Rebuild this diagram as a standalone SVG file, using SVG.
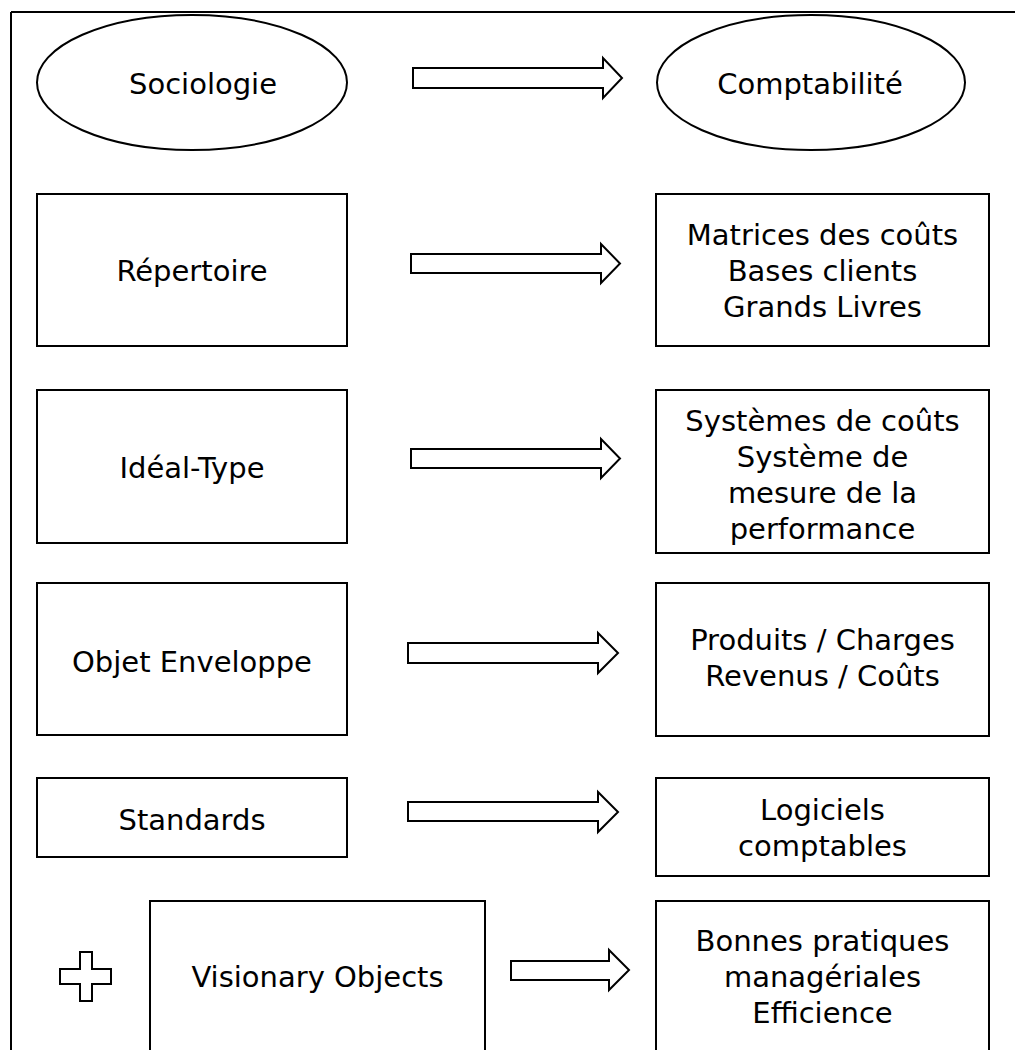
<svg xmlns="http://www.w3.org/2000/svg" width="1015" height="1050" viewBox="0 0 1015 1050">
<style>
.shape{fill:#fff;stroke:#000;stroke-width:2}
.arrow{fill:#fff;stroke:#000;stroke-width:2;stroke-linejoin:miter}
text{font-family:"DejaVu Sans","Liberation Sans",sans-serif;font-size:29px;fill:#000;text-anchor:middle}
</style>
<rect width="1015" height="1050" fill="#fff"/>
<g id="frame">
<line x1="11" y1="12" x2="1015" y2="12" stroke="#000" stroke-width="2"/>
<line x1="11" y1="12" x2="11" y2="1050" stroke="#000" stroke-width="2"/>
</g>
<g id="sociologie">
<ellipse class="shape" cx="192" cy="82.5" rx="155" ry="67.5"/>
<text x="203" y="94">Sociologie</text>
</g>
<g id="comptabilite">
<ellipse class="shape" cx="811" cy="82.5" rx="154" ry="67.5"/>
<text x="810" y="94">Comptabilité</text>
</g>
<g id="repertoire">
<rect class="shape" x="37" y="194" width="310" height="152"/>
<text x="192" y="281">Répertoire</text>
</g>
<g id="matrices">
<rect class="shape" x="656" y="194" width="333" height="152"/>
<text x="822.5" y="245">Matrices des coûts</text>
<text x="822.5" y="281">Bases clients</text>
<text x="822.5" y="317">Grands Livres</text>
</g>
<g id="idealtype">
<rect class="shape" x="37" y="390" width="310" height="153"/>
<text x="192" y="478">Idéal-Type</text>
</g>
<g id="systemes">
<rect class="shape" x="656" y="390" width="333" height="163"/>
<text x="822.5" y="431">Systèmes de coûts</text>
<text x="822.5" y="467">Système de</text>
<text x="822.5" y="503">mesure de la</text>
<text x="822.5" y="539">performance</text>
</g>
<g id="objet">
<rect class="shape" x="37" y="583" width="310" height="152"/>
<text x="192" y="672">Objet Enveloppe</text>
</g>
<g id="produits">
<rect class="shape" x="656" y="583" width="333" height="153"/>
<text x="822.5" y="650">Produits / Charges</text>
<text x="822.5" y="686">Revenus / Coûts</text>
</g>
<g id="standards">
<rect class="shape" x="37" y="778" width="310" height="79"/>
<text x="192" y="830">Standards</text>
</g>
<g id="logiciels">
<rect class="shape" x="656" y="778" width="333" height="98"/>
<text x="822.5" y="820">Logiciels</text>
<text x="822.5" y="856">comptables</text>
</g>
<g id="plus">
<polygon class="shape" stroke-width="1.6" points="80,952 92,952 92,969 111,969 111,984 92,984 92,1001 80,1001 80,984 60,984 60,969 80,969"/>
</g>
<g id="visionary">
<rect class="shape" x="150" y="901" width="335" height="160"/>
<text x="317.5" y="987">Visionary Objects</text>
</g>
<g id="bonnes">
<rect class="shape" x="656" y="901" width="333" height="160"/>
<text x="822.5" y="951">Bonnes pratiques</text>
<text x="822.5" y="987">managériales</text>
<text x="822.5" y="1023">Efficience</text>
</g>
<g id="connectors">
<polygon class="arrow" points="413,68 603,68 603,58 622,78 603,98 603,88 413,88"/>
<polygon class="arrow" points="411,254 601,254 601,244 620,263.5 601,283 601,273 411,273"/>
<polygon class="arrow" points="411,449 601,449 601,439 620,458.5 601,478 601,468 411,468"/>
<polygon class="arrow" points="408,643 598,643 598,633 618,653 598,673 598,663 408,663"/>
<polygon class="arrow" points="408,802 598,802 598,792 618,812 598,832 598,821 408,821"/>
<polygon class="arrow" points="511,961 609,961 609,950 629,970 609,990 609,980 511,980"/>
</g>
</svg>
